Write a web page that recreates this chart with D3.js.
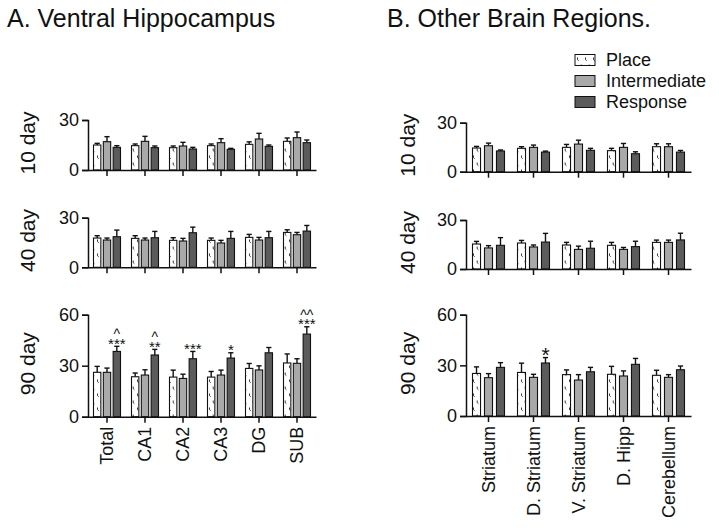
<!DOCTYPE html>
<html>
<head>
<meta charset="utf-8">
<script src="https://cdn.jsdelivr.net/npm/d3@7"></script>
<style>
  html, body { margin: 0; padding: 0; background: #fff; }
  svg { display: block; font-family: "Liberation Sans", Arial, Helvetica, sans-serif; }
  text { fill: #111; }
</style>
</head>
<body>
<svg id="chart" width="719" height="531" font-family="Liberation Sans, Arial, sans-serif"></svg>
<script>
// ---------------- DATA ----------------
const groups = ["Place", "Intermediate", "Response"];
const ages = ["10 day", "40 day", "90 day"];
const yMaxes = [30, 30, 60];
const yTicks = [[0, 30], [0, 30], [0, 30, 60]];

const categoriesA = ["Total", "CA1", "CA2", "CA3", "DG", "SUB"];
const categoriesB = ["Striatum", "D. Striatum", "V. Striatum", "D. Hipp", "Cerebellum"];

// Panel A - Ventral Hippocampus
const placeA10 = [15.0, 14.6, 13.4, 14.6, 15.4, 17.2];
const placeA10Err = [1.0, 1.0, 1.0, 1.0, 1.5, 2.0];
const interA10 = [17.0, 17.2, 14.4, 16.4, 18.6, 19.4];
const interA10Err = [3.0, 3.0, 2.2, 2.4, 3.4, 3.4];
const respA10 = [13.6, 13.4, 12.6, 12.4, 14.2, 16.4];
const respA10Err = [1.0, 1.0, 1.0, 0.6, 0.8, 1.6];

const placeA40 = [17.7, 17.5, 16.3, 16.3, 18.1, 21.1];
const placeA40Err = [1.4, 1.6, 1.6, 1.4, 1.8, 1.6];
const interA40 = [16.5, 16.5, 15.9, 14.7, 16.5, 19.7];
const interA40Err = [1.2, 1.2, 1.6, 1.6, 1.6, 1.4];
const respA40 = [18.5, 17.9, 20.9, 17.5, 17.9, 21.9];
const respA40Err = [4.0, 3.8, 3.4, 4.2, 3.8, 3.4];

const placeA90 = [26.1, 23.5, 23.3, 23.3, 28.4, 31.6];
const placeA90Err = [3.5, 2.2, 4.1, 3.3, 2.9, 5.3];
const interA90 = [26.1, 24.5, 22.5, 24.5, 27.5, 31.4];
const interA90Err = [2.5, 3.1, 2.5, 2.9, 2.4, 2.7];
const respA90 = [38.4, 36.3, 34.1, 34.5, 37.6, 48.6];
const respA90Err = [3.0, 3.3, 4.3, 3.1, 3.1, 4.3];

const starsA90 = ["***", "**", "***", "*", "", "***"];
const caretsA90 = ["^", "^", "", "", "", "^^"];

// Panel B - Other Brain Regions
const placeB10 = [14.5, 14.3, 14.9, 12.9, 15.3];
const placeB10Err = [1.0, 1.0, 1.8, 1.4, 1.8];
const interB10 = [15.9, 14.9, 16.9, 14.9, 15.3];
const interB10Err = [1.6, 1.4, 2.4, 2.4, 1.8];
const respB10 = [12.7, 12.0, 13.1, 11.0, 12.0];
const respB10Err = [0.6, 0.6, 1.2, 1.2, 1.0];

const placeB40 = [15.3, 15.9, 14.7, 14.5, 16.3];
const placeB40Err = [1.6, 1.6, 1.6, 1.8, 1.4];
const interB40 = [12.9, 13.5, 12.0, 12.0, 16.3];
const interB40Err = [1.4, 1.2, 2.0, 1.2, 1.4];
const respB40 = [14.5, 16.5, 12.7, 13.7, 17.8];
const respB40Err = [4.7, 5.3, 4.3, 3.3, 4.1];

const placeB90 = [25.2, 25.8, 24.5, 24.7, 24.1];
const placeB90Err = [3.9, 5.5, 2.8, 4.7, 3.0];
const interB90 = [22.7, 22.9, 21.3, 23.7, 22.9];
const interB90Err = [2.4, 1.8, 3.2, 3.0, 1.6];
const respB90 = [28.8, 31.4, 26.2, 30.6, 27.4];
const respB90Err = [2.8, 3.2, 2.6, 3.5, 2.2];

const starsB90 = ["", "*", "", "", ""];
const caretsB90 = ["", "", "", "", ""];

const titleA = "A. Ventral Hippocampus";
const titleB = "B. Other Brain Regions.";

// ---------------- BUILD ----------------
const FONT = "Liberation Sans, Arial, sans-serif";
const svg = d3.select("#chart");
const fills = { "Place": "url(#placePat)", "Intermediate": "#a9a9a9", "Response": "#5b5b5b" };

const defs = svg.append("defs");
const pat = defs.append("pattern").attr("id", "placePat")
  .attr("patternUnits", "userSpaceOnUse").attr("width", 8).attr("height", 14);
pat.append("rect").attr("width", 8).attr("height", 14).attr("fill", "#fff");
pat.append("path").attr("d", "M1.5,1.5 v2.2 l1.2,1").attr("stroke", "#222").attr("stroke-width", 0.9).attr("fill", "none");
pat.append("path").attr("d", "M5.2,8.5 v2.2 l1.2,1").attr("stroke", "#222").attr("stroke-width", 0.9).attr("fill", "none");

const panels = [
  {
    cats: categoriesA, x0: 88, x1: 316, inner: 27, pad: 0.25, title: titleA, titleX: 7, labelX: 28,
    rows: [
      { y0: 170, yTop: 120, data: [[placeA10, placeA10Err], [interA10, interA10Err], [respA10, respA10Err]] },
      { y0: 267.3, yTop: 217.7, data: [[placeA40, placeA40Err], [interA40, interA40Err], [respA40, respA40Err]] },
      { y0: 416.7, yTop: 314.7, data: [[placeA90, placeA90Err], [interA90, interA90Err], [respA90, respA90Err]],
        stars: starsA90, carets: caretsA90, starSize: 15 }
    ]
  },
  {
    cats: categoriesB, x0: 466, x1: 691, inner: 32, pad: 0.33, title: titleB, titleX: 387, labelX: 408,
    rows: [
      { y0: 171.7, yTop: 122.7, data: [[placeB10, placeB10Err], [interB10, interB10Err], [respB10, respB10Err]] },
      { y0: 269, yTop: 220, data: [[placeB40, placeB40Err], [interB40, interB40Err], [respB40, respB40Err]] },
      { y0: 416, yTop: 314.7, data: [[placeB90, placeB90Err], [interB90, interB90Err], [respB90, respB90Err]],
        stars: starsB90, carets: caretsB90, starSize: 21 }
    ]
  }
];

panels.forEach(p => {
  svg.append("text").attr("x", p.titleX).attr("y", 27).attr("font-size", 25)
    .attr("font-family", FONT).attr("fill", "#111").text(p.title);

  const x = d3.scaleBand().domain(p.cats).range([p.x0, p.x1]).paddingInner(0).paddingOuter(0);
  const xi = d3.scaleBand().domain(groups).range([-p.inner / 2, p.inner / 2]).paddingInner(p.pad).paddingOuter(0);

  p.rows.forEach((r, ri) => {
    const y = d3.scaleLinear().domain([0, yMaxes[ri]]).range([r.y0, r.yTop]);
    const g = svg.append("g");

    groups.forEach((grp, gi) => {
      const vals = r.data[gi][0], errs = r.data[gi][1];
      p.cats.forEach((c, ci) => {
        const cx = x(c) + x.bandwidth() / 2 + xi(grp);
        const w = xi.bandwidth();
        const top = y(vals[ci] + errs[ci]);
        const bx = cx + w / 2;
        g.append("line").attr("x1", bx).attr("x2", bx).attr("y1", y(vals[ci])).attr("y2", top)
          .attr("stroke", "#111").attr("stroke-width", 1.4);
        g.append("line").attr("x1", bx - 2.6).attr("x2", bx + 2.6).attr("y1", top).attr("y2", top)
          .attr("stroke", "#111").attr("stroke-width", 1.4);
        g.append("rect").attr("x", cx).attr("y", y(vals[ci])).attr("width", w)
          .attr("height", r.y0 - y(vals[ci])).attr("fill", fills[grp])
          .attr("stroke", "#111").attr("stroke-width", 1.1);
      });
    });

    // annotations: caret line and star line in one text element
    if (r.stars) {
      p.cats.forEach((c, ci) => {
        const cx = x(c) + x.bandwidth() / 2 + xi("Response") + xi.bandwidth() / 2;
        const top = y(r.data[2][0][ci] + r.data[2][1][ci]);
        const big = r.starSize > 18;
        const sb = top + (big ? 4.2 : 2.4);
        if (!r.stars[ci] && !r.carets[ci]) return;
        const t = g.append("text").attr("text-anchor", "middle").attr("font-family", FONT).attr("fill", "#000");
        if (r.carets[ci]) {
          t.append("tspan").attr("x", cx).attr("y", sb - 9.5).attr("font-size", 14).text(r.carets[ci]);
        }
        if (r.stars[ci]) {
          t.append("tspan").attr("x", cx).attr("y", sb).attr("font-size", r.starSize).text(r.stars[ci]);
        }
      });
    }

    // y axis
    const ya = svg.append("g").attr("transform", `translate(${p.x0},0)`)
      .call(d3.axisLeft(y).tickValues(yTicks[ri]).tickSize(6).tickPadding(3).tickFormat(d3.format("d")));
    ya.attr("font-family", FONT);
    ya.select(".domain").attr("stroke", "#111").attr("stroke-width", 1.5);
    ya.selectAll(".tick line").attr("stroke", "#111").attr("stroke-width", 1.5);
    ya.selectAll(".tick text").attr("font-size", 18).attr("fill", "#111");

    // x axis
    const xa = svg.append("g").attr("transform", `translate(0,${r.y0})`)
      .call(d3.axisBottom(x).tickSize(6).tickSizeOuter(0).tickFormat(ri === 2 ? (d => d) : () => ""));
    xa.attr("font-family", FONT);
    xa.select(".domain").attr("stroke", "#111").attr("stroke-width", 1.5);
    xa.selectAll(".tick line").attr("stroke", "#111").attr("stroke-width", 1.5);
    if (ri === 2) {
      xa.selectAll(".tick text")
        .attr("font-size", 18).attr("fill", "#111")
        .attr("text-anchor", "end").attr("transform", "rotate(-90)")
        .attr("x", -10).attr("y", 0).attr("dy", "0.35em");
    }

    // row label
    const my = (r.y0 + r.yTop) / 2 - 2;
    svg.append("text").attr("transform", `translate(${p.labelX},${my}) rotate(-90)`)
      .attr("text-anchor", "middle").attr("dy", "0.35em").attr("font-size", 21)
      .attr("font-family", FONT).attr("fill", "#111").text(ages[ri]);
  });
});

// legend
const lg = svg.append("g");
groups.forEach((grp, i) => {
  const ly = 60 + i * 21;
  lg.append("rect").attr("x", 575).attr("y", ly - 5.5).attr("width", 20).attr("height", 11)
    .attr("fill", fills[grp]).attr("stroke", "#111").attr("stroke-width", 1);
  lg.append("text").attr("x", 606).attr("y", ly).attr("dy", "0.35em").attr("font-size", 18)
    .attr("font-family", FONT).attr("fill", "#111").text(grp);
});
</script>
</body>
</html>
